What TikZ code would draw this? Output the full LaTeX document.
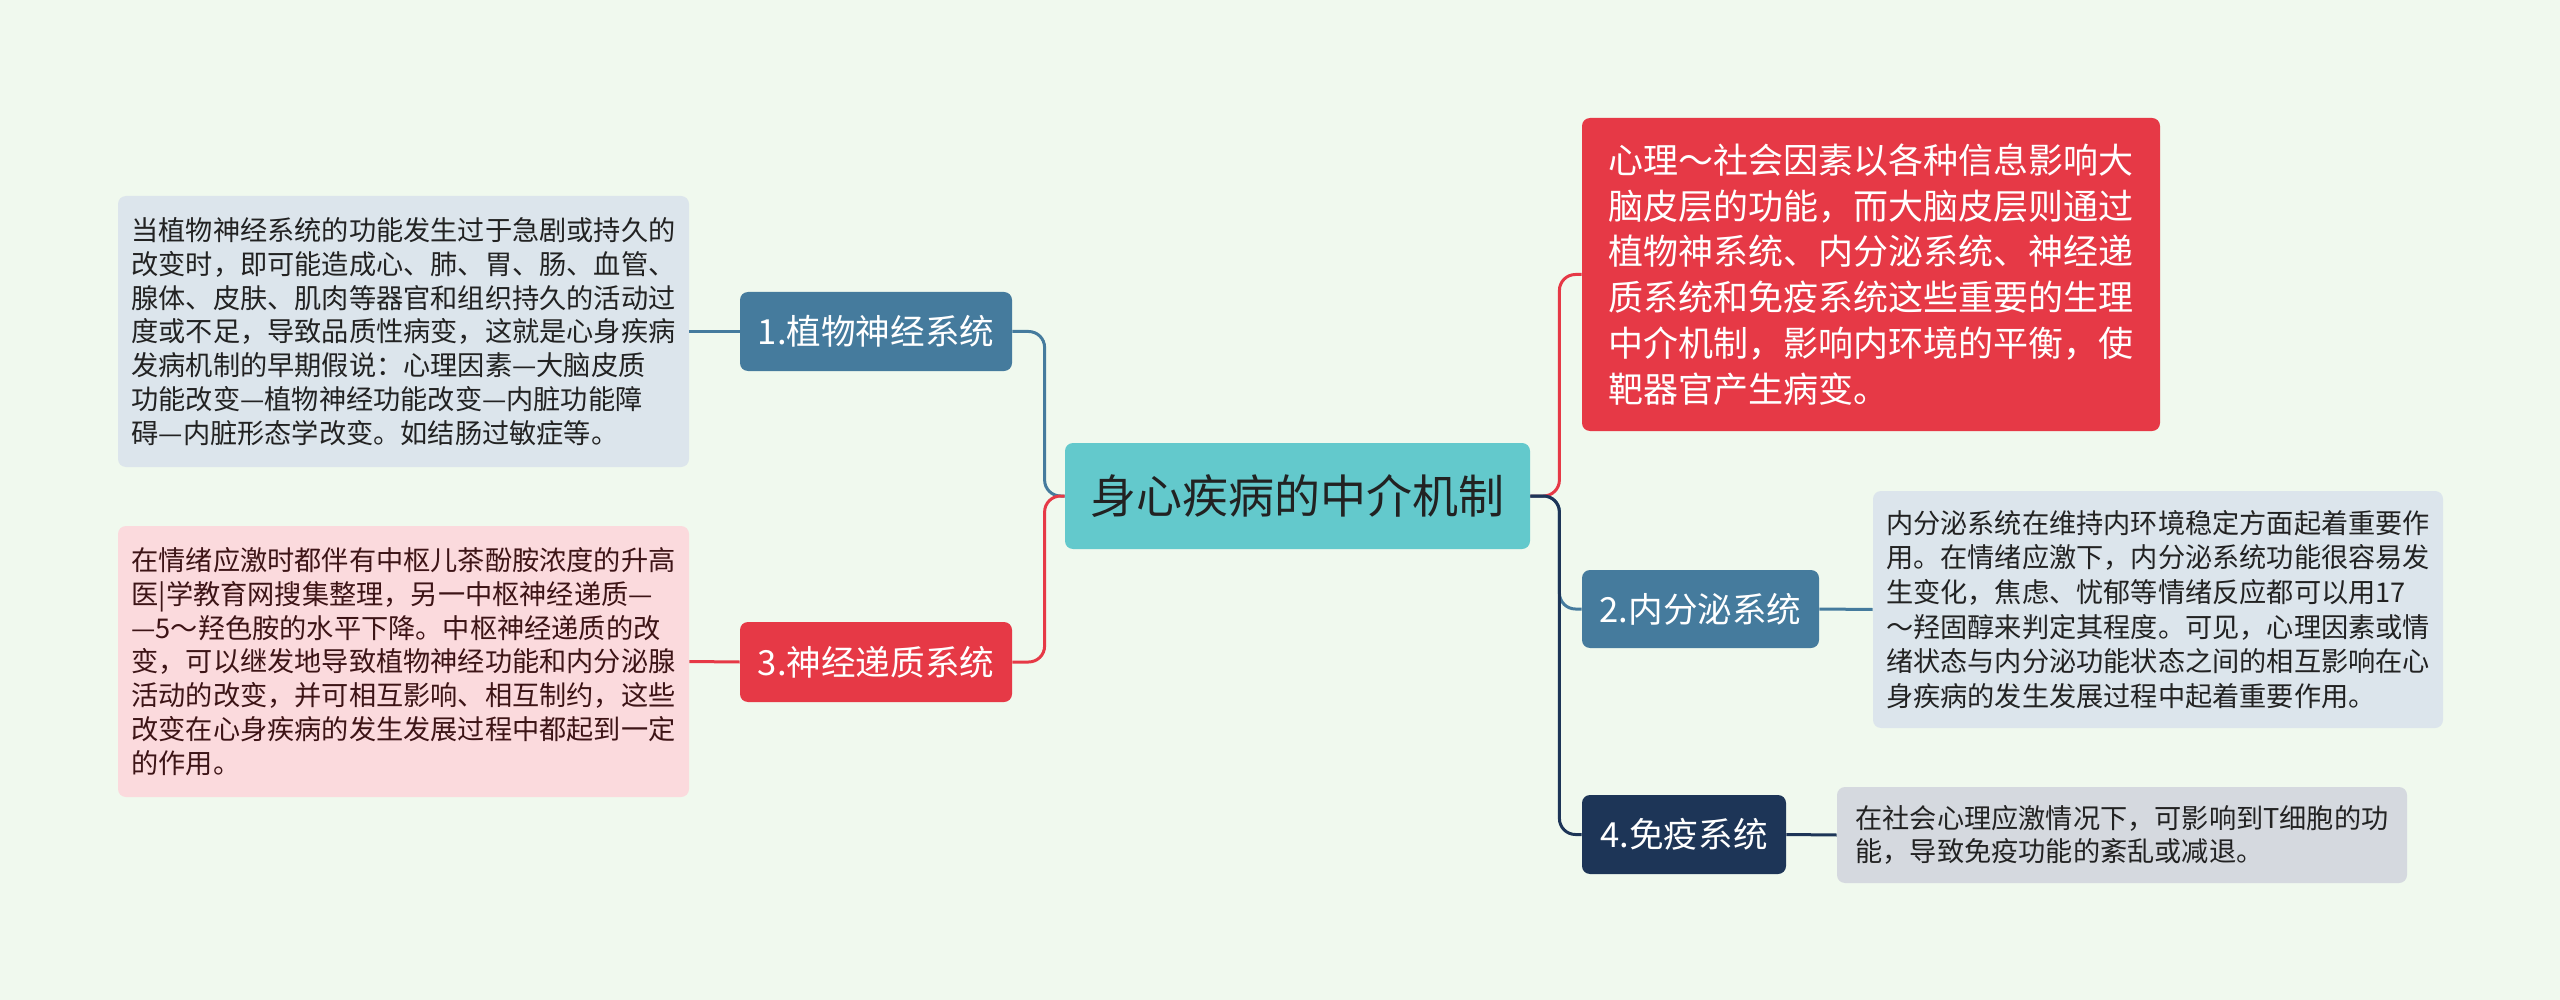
\documentclass[tikz,border=0pt]{standalone}
\usepackage{fontspec}
\setmainfont{Noto Sans CJK SC}
\definecolor{bgcol}{HTML}{F0F9EE}
\definecolor{rootcol}{HTML}{63C9CC}
\definecolor{steel}{HTML}{457B9D}
\definecolor{rosso}{HTML}{E63946}
\definecolor{navy}{HTML}{1D3557}
\definecolor{leafblue}{HTML}{DCE5EC}
\definecolor{leafpink}{HTML}{FBDADD}
\definecolor{leafgray}{HTML}{D5D9DF}
\definecolor{inkdark}{HTML}{222222}
\definecolor{inkred}{HTML}{3D1416}

\begin{document}
\begin{tikzpicture}[x=0.5pt, y=-0.5pt,
    root/.style={rounded corners=4pt, fill=rootcol, text=inkdark, font=\fontsize{23pt}{28pt}\selectfont},
    topic/.style={rounded corners=4pt, text=white, font=\fontsize{17.3pt}{21pt}\selectfont},
    leaf/.style={rounded corners=4pt, align=left, text=inkdark, font=\fontsize{13.6pt}{16.9pt}\selectfont},
    link/.style={line width=1.5pt, rounded corners=8pt}
  ]
  \fill[bgcol] (0,0) rectangle (2560,1000);

  % centre
  \node[root, minimum width=232.5pt, minimum height=53pt] (centre) at (1297.5,496) {身心疾病的中介机制};

  % left side
  \node[topic, fill=steel, minimum width=136pt, minimum height=39.5pt] (veg) at (876,331.5) {1.植物神经系统};
  \node[topic, fill=rosso, minimum width=136pt, minimum height=40pt] (neuro) at (876,662) {3.神经递质系统};
  \node[leaf, fill=leafblue, minimum width=285.5pt, minimum height=135.5pt] (vegtxt) at (403.5,331.5)
    {当植物神经系统的功能发生过于急剧或持久的\\
     改变时，即可能造成心、肺、胃、肠、血管、\\
     腺体、皮肤、肌肉等器官和组织持久的活动过\\
     度或不足，导致品质性病变，这就是心身疾病\\
     发病机制的早期假说：心理因素—大脑皮质\\
     功能改变—植物神经功能改变—内脏功能障\\
     碍—内脏形态学改变。如结肠过敏症等。};
  \node[leaf, fill=leafpink, text=inkred, minimum width=285.5pt, minimum height=135.5pt] (neurotxt) at (403.5,661.5)
    {在情绪应激时都伴有中枢儿茶酚胺浓度的升高\\
     医|学教育网搜集整理，另一中枢神经递质—\\
     —5～羟色胺的水平下降。中枢神经递质的改\\
     变，可以继发地导致植物神经功能和内分泌腺\\
     活动的改变，并可相互影响、相互制约，这些\\
     改变在心身疾病的发生发展过程中都起到一定\\
     的作用。};

  % right side
  \node[topic, fill=rosso, align=left, minimum width=289pt, minimum height=156.5pt,
        font=\fontsize{17.5pt}{22.9pt}\selectfont] (psy) at (1871,274.5)
    {心理～社会因素以各种信息影响大\\
     脑皮层的功能，而大脑皮层则通过\\
     植物神系统、内分泌系统、神经递\\
     质系统和免疫系统这些重要的生理\\
     中介机制，影响内环境的平衡，使\\
     靶器官产生病变。};
  \node[topic, fill=steel, minimum width=118.5pt, minimum height=39pt] (endo) at (1700.5,609) {2.内分泌系统};
  \node[topic, fill=navy, minimum width=102pt, minimum height=39.5pt] (immu) at (1684,834.5) {4.免疫系统};
  \node[leaf, fill=leafblue, minimum width=285pt, minimum height=118.5pt,
        font=\fontsize{13.6pt}{17.3pt}\selectfont] (endotxt) at (2158,609.5)
    {内分泌系统在维持内环境稳定方面起着重要作\\
     用。在情绪应激下，内分泌系统功能很容易发\\
     生变化，焦虑、忧郁等情绪反应都可以用17\\
     ～羟固醇来判定其程度。可见，心理因素或情\\
     绪状态与内分泌功能状态之间的相互影响在心\\
     身疾病的发生发展过程中起着重要作用。};
  \node[leaf, fill=leafgray, minimum width=285pt, minimum height=48pt] (immutxt) at (2122,835)
    {在社会心理应激情况下，可影响到T细胞的功\\
     能，导致免疫功能的紊乱或减退。};

  % links
  \draw[link, steel] (centre.west) -- ++(-20,0) |- (veg.east);
  \draw[link, rosso] (centre.west) -- ++(-20,0) |- (neuro.east);
  \draw[link, steel] (veg.west) -- (vegtxt.east);
  \draw[link, rosso] (neuro.west) -- (neurotxt.east);

  \draw[link, rosso] (centre.east) -- ++(29,0) |- (psy.west);
  \draw[link, steel] (centre.east) -- ++(29,0) |- (endo.west);
  \draw[link, navy] (centre.east) -- ++(29,0) |- (immu.west);
  \draw[link, steel] (endo.east) -- (endotxt.west);
  \draw[link, navy] (immu.east) -- (immutxt.west);
\end{tikzpicture}
\end{document}
